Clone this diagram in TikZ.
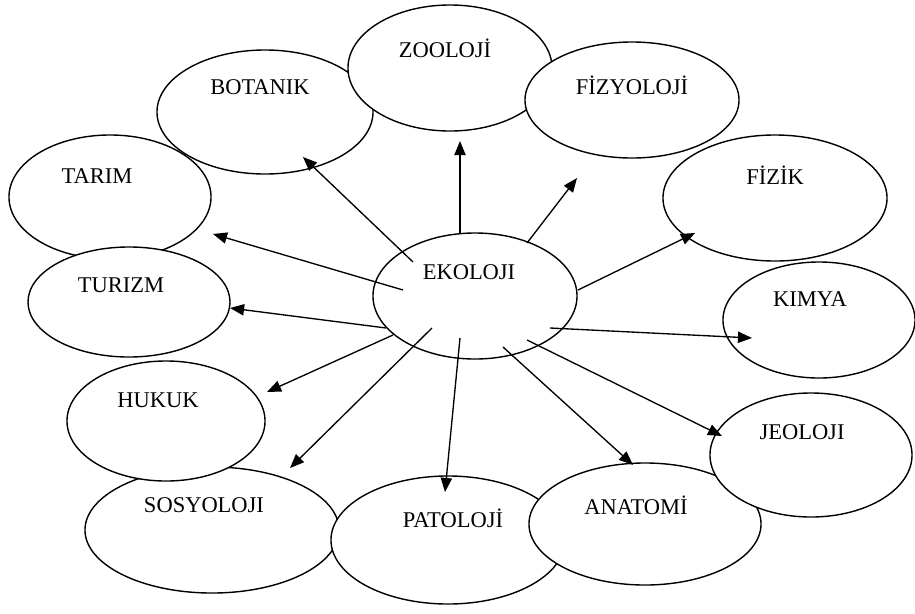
\documentclass[tikz,border=0pt]{standalone}
\usepackage{fontspec}
\setmainfont{Liberation Serif}
\usetikzlibrary{shapes.geometric,arrows.meta}

\begin{document}
\begin{tikzpicture}[x=0.025cm, y=-0.025cm, line join=round, >={Triangle[length=10pt,width=8pt]},
	alan/.style={draw, ellipse, fill=white, line width=1pt, inner sep=0pt},
	ad/.style={font=\fontsize{16}{19}\selectfont, inner sep=0pt},
	ok/.style={->, line width=0.95pt}]
	\useasboundingbox (0,0) rectangle (915,613);
	
	% Üst sıra
	\node[alan, minimum width=5.4cm, minimum height=3.1cm] (bot) at (265,112) {};
	\node[ad] (bot-t) at (260,87) {BOTANIK};
	\node[alan, minimum width=5.1cm, minimum height=3.15cm] (zoo) at (450,68) {};
	\node[ad] (zoo-t) at (445,48) {ZOOLOJİ};
	\node[alan, minimum width=5.35cm, minimum height=2.9cm] (fiy) at (632,100) {};
	\node[ad] (fiy-t) at (632,85) {FİZYOLOJİ};
	\node[alan, minimum width=5.6cm, minimum height=3.15cm] (fiz) at (775,198) {};
	\node[ad] (fiz-t) at (775,175) {FİZİK};
	\node[alan, minimum width=4.8cm, minimum height=2.9cm] (kim) at (819,320) {};
	\node[ad] (kim-t) at (810,299) {KIMYA};
	
	% Sol taraf
	\node[alan, minimum width=5.05cm, minimum height=3.1cm] (tar) at (110,197) {};
	\node[ad] (tar-t) at (97,176) {TARIM};
	\node[alan, minimum width=5.05cm, minimum height=2.75cm] (tur) at (129,302) {};
	\node[ad] (tur-t) at (121,285) {TURIZM};
	\node[alan, minimum width=6.35cm, minimum height=3.15cm] (sos) at (212,530) {};
	\node[ad] (sos-t) at (204,505) {SOSYOLOJI};
	\node[alan, minimum width=4.95cm, minimum height=3.0cm] (huk) at (166,421) {};
	\node[ad] (huk-t) at (158,400) {HUKUK};
	
	% Alt sıra
	\node[alan, minimum width=5.85cm, minimum height=3.2cm] (pat) at (448,540) {};
	\node[ad] (pat-t) at (453,518) {PATOLOJİ};
	\node[alan, minimum width=5.8cm, minimum height=3.05cm] (ana) at (645,524) {};
	\node[ad] (ana-t) at (636,505) {ANATOMİ};
	\node[alan, minimum width=5.05cm, minimum height=3.1cm] (jeo) at (811,455) {};
	\node[ad] (jeo-t) at (802,432) {JEOLOJI};
	
	% Merkez
	\node[alan, minimum width=5.1cm, minimum height=3.15cm] (eko) at (475,296) {};
	\node[ad] (eko-t) at (469,272) {EKOLOJI};
	
	% Ok başları ve uçları
	\coordinate (s-bot) at (413,262);  \coordinate (u-bot) at (303,157);
	\coordinate (s-zoo) at (460,234);  \coordinate (u-zoo) at (460,141);
	\coordinate (s-fiy) at (527,243);  \coordinate (u-fiy) at (577,178);
	\coordinate (s-fiz) at (578,290);  \coordinate (u-fiz) at (695,233);
	\coordinate (s-kim) at (550,328);  \coordinate (u-kim) at (752,338);
	\coordinate (s-jeo) at (527,340);  \coordinate (u-jeo) at (722,436);
	\coordinate (s-ana) at (503,347);  \coordinate (u-ana) at (633,465);
	\coordinate (s-pat) at (460,338);  \coordinate (u-pat) at (445,492);
	\coordinate (s-sos) at (432,328);  \coordinate (u-sos) at (290,468);
	\coordinate (s-huk) at (393,335);  \coordinate (u-huk) at (267,392);
	\coordinate (s-tur) at (386,328);  \coordinate (u-tur) at (230,308);
	\coordinate (s-tar) at (403,290);  \coordinate (u-tar) at (213,234);
	
	\foreach \k in {bot,zoo,fiy,fiz,kim,jeo,ana,pat,sos,huk,tur,tar}
		\draw[ok] (s-\k) -- (u-\k);
\end{tikzpicture}
\end{document}
